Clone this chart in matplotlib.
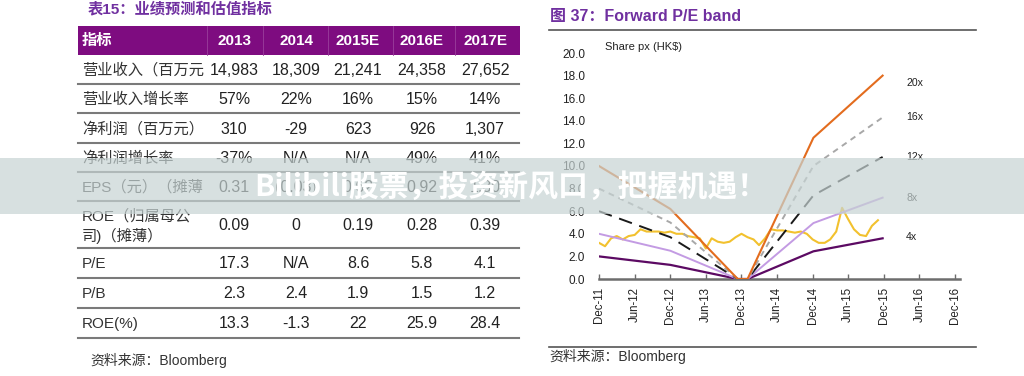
import numpy as np
import pandas as pd
import matplotlib
matplotlib.use("Agg")
import matplotlib.pyplot as plt
import matplotlib.dates as mdates
from matplotlib.patches import Rectangle

plt.rcParams['font.family'] = ['Liberation Sans', 'Noto Sans CJK SC', 'DejaVu Sans']

W, H = 1024, 376

# ---------------- tabel (kiri)
table_title = "表15：业绩预测和估值指标"
col_labels = ["指标", "2013", "2014", "2015E", "2016E", "2017E"]
row_labels = ["营业收入（百万元", "营业收入增长率", "净利润（百万元）", "净利润增长率",
              "EPS（元）（摊薄", "ROE（归属母公\n司)（摊薄）", "P/E", "P/B", "ROE(%)"]
val_2013 = ["14,983", "57%", "310", "-37%", "0.31", "0.09", "17.3", "2.3", "13.3"]
val_2014 = ["18,309", "22%", "-29", "N/A", "(0.03)", "0", "N/A", "2.4", "-1.3"]
val_2015 = ["21,241", "16%", "623", "N/A", "0.62", "0.19", "8.6", "1.9", "22"]
val_2016 = ["24,358", "15%", "926", "49%", "0.92", "0.28", "5.8", "1.5", "25.9"]
val_2017 = ["27,652", "14%", "1,307", "41%", "1.30", "0.39", "4.1", "1.2", "28.4"]
table_source = "资料来源：Bloomberg"

# ---------------- grafik (kanan)
chart_title = "图 37：Forward P/E band"
band_dates = pd.to_datetime(["2011-12-01", "2012-12-01", "2013-11-12",
                             "2014-01-01", "2014-12-05", "2015-11-25"])
pe_4x = [2.0, 1.25, 0.0, 0.0, 2.45, 3.6]
pe_8x = [4.0, 2.5, 0.0, 0.0, 4.95, 7.2]
pe_12x = [6.0, 3.7, 0.0, 0.0, 7.4, 10.8]
pe_16x = [8.0, 5.0, 0.0, 0.0, 10.0, 14.3]
pe_20x = [10.0, 6.2, 0.0, 0.0, 12.5, 18.0]
price_dates = pd.date_range("2011-12-01", periods=48, freq="MS")
price = [3.2, 2.9, 3.6, 3.8, 3.5, 3.8, 3.9, 4.4, 4.2, 4.2, 4.2, 4.1,
         4.2, 4.0, 4.0, 3.8, 3.7, 3.6, 2.7, 3.6, 3.3, 3.2, 3.3, 3.7,
         4.0, 3.7, 3.5, 3.0, 3.6, 4.4, 4.3, 4.3, 4.2, 4.1, 4.2, 4.0,
         3.5, 3.2, 3.2, 3.5, 4.2, 6.3, 5.3, 4.4, 3.9, 3.8, 4.7, 5.2]
band_labels = ["20x", "16x", "12x", "8x", "4x"]
chart_source = "资料来源：Bloomberg"

fig = plt.figure(figsize=(W / 100, H / 100), dpi=100)

# latar + tabel dalam koordinat piksel
bg = fig.add_axes([0, 0, 1, 1], zorder=-1)
bg.set_xlim(0, W)
bg.set_ylim(H, 0)
bg.axis("off")

purple = "#7e0c80"
bg.text(88, 9, table_title, fontsize=11, fontweight="bold", color="#7030a0", va="center")
bg.add_patch(Rectangle((78, 26), 442, 29, color=purple, lw=0))
for xs in [207, 263, 328, 393, 455]:
    bg.plot([xs, xs], [26, 55], color="#9a3f9c", lw=0.6)

col_x = [82, 234, 296, 358, 422, 485]
bg.text(col_x[0], 41, col_labels[0], color="white", fontsize=11, fontweight="bold", va="center")
for cx, lab in zip(col_x[1:], col_labels[1:]):
    bg.text(cx, 41, lab, color="white", fontsize=11, fontweight="bold", va="center", ha="center")

row_bottom = [84, 113, 143, 172, 201, 248, 278, 308, 338]
row_top = [55] + row_bottom[:-1]
cols = [val_2013, val_2014, val_2015, val_2016, val_2017]
for i, lab in enumerate(row_labels):
    yc = (row_top[i] + row_bottom[i]) / 2 + 1
    parts = lab.split("\n")
    if len(parts) == 1:
        bg.text(col_x[0], yc, lab, fontsize=11, color="#333333", va="center")
    else:
        bg.text(col_x[0], yc - 9, parts[0], fontsize=11, color="#333333", va="center")
        bg.text(col_x[0], yc + 10, parts[1], fontsize=11, color="#333333", va="center")
    for cx, col in zip(col_x[1:], cols):
        bg.text(cx, yc, col[i], fontsize=11.5, color="#222222", va="center", ha="center")
    bg.plot([78, 519], [row_bottom[i], row_bottom[i]], color="#7a7a7a", lw=1.5)

bg.text(90, 360, table_source, fontsize=10, color="#333333", va="center")

# judul & sumber grafik
bg.text(550, 17, chart_title, fontsize=11.5, fontweight="bold", color="#7030a0", va="center")
bg.plot([549, 976], [30, 30], color="#555555", lw=1.2)
bg.plot([549, 976], [347, 347], color="#555555", lw=1.2)
bg.text(549, 356, chart_source, fontsize=10, color="#333333", va="center")
bg.text(605, 47, "Share px (HK$)", fontsize=8, color="#222222", va="center")

# ---------------- area grafik
ax = fig.add_axes([599 / W, 1 - 279 / H, (960 - 599) / W, (279 - 53) / H])
ax.set_facecolor("none")

ax.plot(price_dates, price, color="#f2c12e", lw=1.5, zorder=2)
ax.plot(band_dates, pe_4x, color="#5c0a63", lw=1.6, zorder=3)
ax.plot(band_dates, pe_8x, color="#c39be3", lw=1.4, zorder=3)
ax.plot(band_dates, pe_12x, color="#1a1a1a", lw=1.4, dashes=(7, 4), zorder=3)
ax.plot(band_dates, pe_16x, color="#a8a8a8", lw=1.4, dashes=(3, 2.5), zorder=3)
ax.plot(band_dates, pe_20x, color="#e36c1e", lw=1.5, zorder=4)

finals = [pe_20x[-1], pe_16x[-1], pe_12x[-1], pe_8x[-1], pe_4x[-1]]
offs = [-5, 0, 0, 0, 1]
for lab, yv, dy in zip(band_labels, finals, offs):
    ax.annotate(lab, xy=(band_dates[-1], yv), xytext=(17, dy), textcoords="offset points",
                fontsize=7.6, color="#222222", va="center")

ax.set_ylim(0, 20)
ax.set_yticks(np.arange(0, 20.1, 2))
ax.yaxis.set_major_formatter(matplotlib.ticker.FormatStrFormatter("%.1f"))
ax.set_xlim(pd.Timestamp("2011-12-01"), pd.Timestamp("2016-12-26"))
ax.set_xticks(pd.date_range("2011-12-01", "2016-12-01", freq="6MS"))
ax.xaxis.set_major_formatter(mdates.DateFormatter("%b-%y"))
for s in ["top", "right", "left"]:
    ax.spines[s].set_visible(False)
ax.spines["bottom"].set_color("#6d6d6d")
ax.spines["bottom"].set_linewidth(1.8)
ax.tick_params(axis="y", length=0, pad=10, labelsize=8.5, labelcolor="#222222")
ax.tick_params(axis="x", direction="in", length=3.5, width=1, color="#6d6d6d",
               pad=6, labelsize=8.3, labelrotation=90, labelcolor="#222222")

# ---------------- banner
top = fig.add_axes([0, 0, 1, 1], zorder=10)
top.set_xlim(0, W)
top.set_ylim(H, 0)
top.axis("off")
top.patch.set_alpha(0)
top.add_patch(Rectangle((0, 158), W, 56, color="#c6d3d3", alpha=0.7, lw=0))
top.text(511, 187, "Bilibili股票，投资新风口，把握机遇！", fontsize=21.5, fontweight="bold",
         color="white", ha="center", va="center",
         family=["Noto Sans CJK SC", "DejaVu Sans"])

fig.savefig("out.png", dpi=100)
